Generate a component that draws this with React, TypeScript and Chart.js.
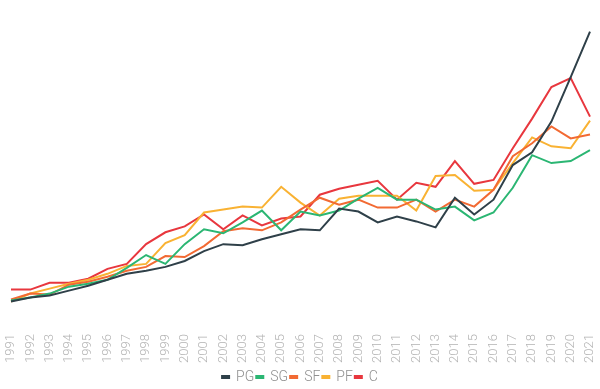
import React, { useEffect, useRef } from "react";
import { Chart, registerables } from "chart.js";

Chart.register(...registerables);

const years = [
  "1991","1992","1993","1994","1995","1996","1997","1998","1999","2000",
  "2001","2002","2003","2004","2005","2006","2007","2008","2009","2010",
  "2011","2012","2013","2014","2015","2016","2017","2018","2019","2020","2021",
];

const pg = [25,29,31,36,41,47,53,56,60,66,76,83,82,88,93,98,97,119,116,105,111,106,100,130,113,128,163,176,207,252,298];
const sg = [26,29,33,40,43,47,59,72,63,83,98,94,105,117,97,116,112,117,129,140,128,128,118,121,107,115,140,173,165,167,178];
const sf = [27,33,32,42,45,50,56,60,71,70,81,96,99,97,105,118,130,123,128,120,120,128,116,128,121,138,172,185,202,190,194];
const pf = [25,33,38,43,47,53,61,63,84,92,115,118,121,120,141,125,112,129,132,132,132,117,152,153,137,138,165,191,182,180,208];
const c = [37,37,44,44,48,58,63,83,95,101,113,98,112,102,109,111,133,139,143,147,128,145,141,167,144,148,180,210,242,251,212];

const seriesNames = ["PG", "SG", "SF", "PF", "C"];
const seriesColors = ["#2f4049", "#2bb673", "#f26a33", "#f9b233", "#e8373e"];

export default function App() {
  const ref = useRef<HTMLCanvasElement | null>(null);

  useEffect(() => {
    if (!ref.current) return;
    const values = [pg, sg, sf, pf, c];
    const chart = new Chart(ref.current, {
      type: "line",
      data: {
        labels: years,
        datasets: seriesNames.map((name, i) => ({
          label: name,
          data: values[i],
          borderColor: seriesColors[i],
          backgroundColor: seriesColors[i],
          borderWidth: 2,
          pointRadius: 0,
          tension: 0,
          fill: false,
        })),
      },
      options: {
        animation: false,
        responsive: true,
        maintainAspectRatio: false,
        layout: { padding: { top: 0, left: 0, right: 0, bottom: 0 } },
        plugins: {
          tooltip: { enabled: false },
          legend: {
            position: "bottom",
            maxHeight: 21,
            labels: {
              boxWidth: 7,
              boxHeight: 2,
              padding: 2,
              color: "#8f8f8f",
              font: { family: "Roboto", size: 14, weight: "300" },
            },
          },
        },
        scales: {
          x: {
            grid: { display: false, drawTicks: false },
            border: { display: false },
            afterFit: (scale: any) => {
              scale.paddingLeft = 11;
              scale.paddingRight = 10;
            },
            ticks: {
              minRotation: 90,
              maxRotation: 90,
              autoSkip: false,
              padding: 5,
              color: "#b3b3b3",
              font: { family: "Roboto", size: 13, weight: "300" },
            },
          },
          y: {
            display: false,
            min: -3,
            max: 330,
          },
        },
      },
    });
    return () => chart.destroy();
  }, []);

  return (
    <div style={{ position: "fixed", left: 0, top: 0, width: 600, height: 389, background: "#fff" }}>
      <canvas ref={ref} />
    </div>
  );
}
